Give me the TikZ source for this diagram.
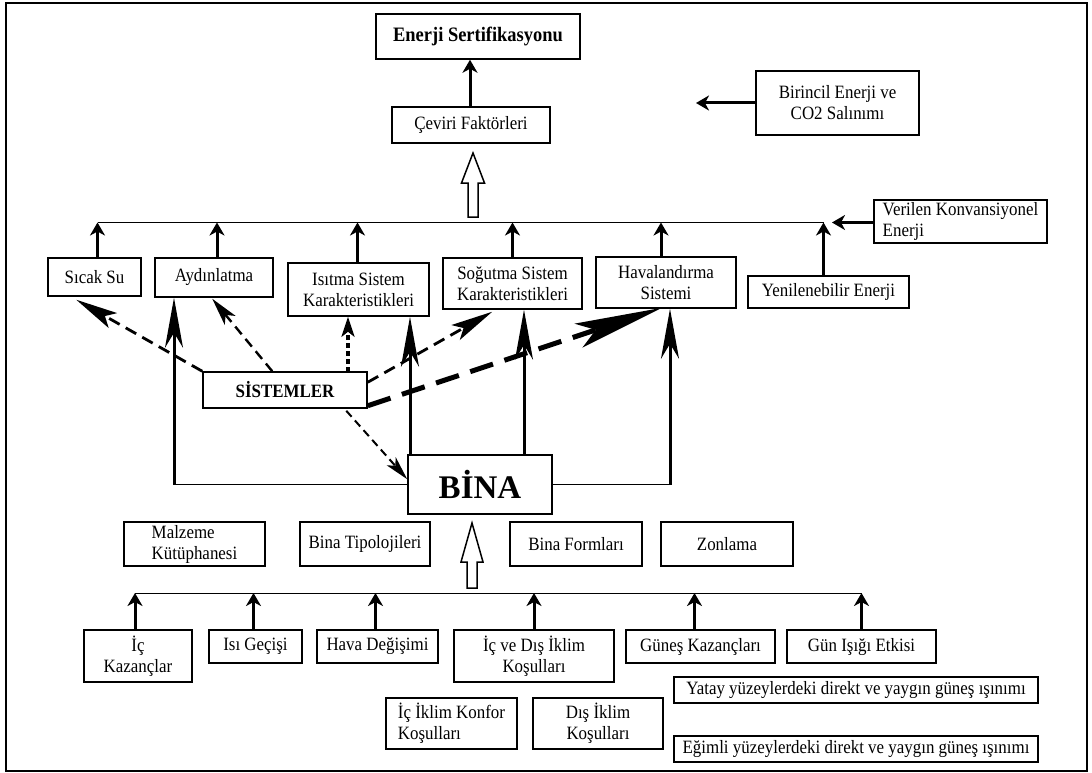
\documentclass[tikz,border=0pt]{standalone}
\usepackage{fontspec}
\setmainfont[FakeStretch=0.9]{Liberation Serif}
\newfontfamily\plainserif{Liberation Serif}
\usetikzlibrary{arrows.meta,calc}
\tikzset{
 box/.style={draw,line width=1.5pt,inner sep=0pt,align=center,font=\fontsize{18.8}{21}\selectfont},
 bus/.style={line width=1pt},
 uparrow/.style={line width=3pt,-{Stealth[length=13pt,width=15pt,inset=4pt]}},
 bigarrow/.style={line width=3pt,-{Stealth[length=50pt,width=18pt,inset=15pt]}},
 dasharrow/.style={line width=2.8pt,dash pattern=on 12pt off 7pt,-{Stealth[length=42pt,width=17pt,inset=9pt]}},
 dasharrowsmall/.style={line width=2.4pt,dash pattern=on 10pt off 6pt,-{Stealth[length=28pt,width=14pt,inset=7pt]}},
 dotarrow/.style={line width=3.2pt,dash pattern=on 5pt off 3pt,-{Stealth[length=20pt,width=13pt,inset=5pt]}},
 thinarrow/.style={line width=2pt,dash pattern=on 8pt off 5pt,-{Stealth[length=24pt,width=12pt,inset=6pt]}},
 heavyarrow/.style={line width=5pt,dash pattern=on 24pt off 12pt,-{Stealth[length=88pt,width=25pt,inset=18pt]}},
 hollow/.style={draw,line width=1.5pt,fill=white},
}
\newcommand\mybox[7][]{\node[box,minimum width={#5pt-#3pt},minimum height={#6pt-#4pt},#1] (#2) at ({(#3+#5)/2},{(#4+#6)/2}) {#7};}
\begin{document}
\begin{tikzpicture}[x=1pt,y=-1pt]
\useasboundingbox (0,0) rectangle (1092,773);
\draw[line width=1.5pt] (6,3) rectangle (1087,771);

% top
\mybox[font=\fontsize{20.5}{23}\selectfont\bfseries]{enerji}{376}{14}{580}{59}{Enerji Sertifikasyonu}
\mybox{ceviri}{392}{107}{550}{143}{Çeviri Faktörleri}
\mybox{birincil}{756}{71}{919}{135}{Birincil Enerji ve\\CO2 Salınımı}
\mybox[align=left]{verilen}{874}{200}{1047}{243}{Verilen Konvansiyonel\\Enerji}

% systems row
\mybox{sicak}{48}{258}{141}{296}{Sıcak Su}
\mybox{aydin}{155}{258}{273}{297}{Aydınlatma}
\mybox{isitma}{288}{263}{429}{316}{Isıtma Sistem\\Karakteristikleri}
\mybox{sogutma}{443}{258}{582}{309}{Soğutma Sistem\\Karakteristikleri}
\mybox{haval}{596}{257}{736}{308}{Havalandırma\\Sistemi}
\mybox{yenile}{748}{276}{909}{308}{Yenilenebilir Enerji}

\mybox[font=\fontsize{18.8}{21}\selectfont\bfseries]{sistemler}{203}{372}{367}{408}{SİSTEMLER}
\mybox[font=\plainserif\fontsize{33}{36}\selectfont\bfseries]{bina}{408}{455}{552}{514}{BİNA}

% building row
\mybox[align=left]{malzeme}{124}{522}{265}{566}{Malzeme\\Kütüphanesi}
\mybox{tipoloji}{300}{522}{430}{566}{Bina Tipolojileri}
\mybox{formlar}{510}{522}{642}{566}{Bina Formları}
\mybox{zonlama}{661}{522}{793}{566}{Zonlama}

% bottom row
\mybox{ickaz}{84}{630}{192}{682}{İç\\Kazançlar}
\mybox{isigec}{209}{630}{302}{663}{Isı Geçişi}
\mybox{havadeg}{317}{630}{438}{663}{Hava Değişimi}
\mybox{icdis}{454}{630}{614}{682}{İç ve Dış İklim\\Koşulları}
\mybox{gunes}{626}{630}{775}{663}{Güneş Kazançları}
\mybox{gunisigi}{787}{630}{936}{663}{Gün Işığı Etkisi}
\mybox{yatay}{674}{677}{1038}{703}{Yatay yüzeylerdeki direkt ve yaygın güneş ışınımı}
\mybox[align=left]{icik}{386}{698}{517}{749}{İç İklim Konfor\\Koşulları}
\mybox{disik}{533}{698}{663}{749}{Dış İklim\\Koşulları}
\mybox{egimli}{674}{736}{1038}{762}{Eğimli yüzeylerdeki direkt ve yaygın güneş ışınımı}

% coordinates
\coordinate (tbus) at (0,222.5);
\coordinate (bbus) at (0,593);
\coordinate (lc) at (174,484.5);
\coordinate (rc) at (670,484.5);
\coordinate (bt) at (696,103);
\coordinate (vt) at (832,222.5);
\coordinate (b1) at (410,455);
\coordinate (b2) at (524,455);
\coordinate (s3) at (348,372);

% top connectors
\draw[uparrow] (ceviri.north -| 470,0) -- (enerji.south -| 470,0);
\draw[uparrow] (birincil.west) -- (bt);
\draw[uparrow] (verilen.west |- vt) -- (vt);
\draw[hollow] (468,217) -- (478,217) -- (478,183) -- (484.5,183) -- (473,153) -- (461.5,183) -- (468,183) -- cycle;

\draw[bus] ([xshift=3pt]sicak.north |- tbus) -- ([xshift=-5pt]yenile.north |- tbus);
\draw[uparrow] ([xshift=3pt]sicak.north) -- ([xshift=3pt]sicak.north |- tbus);
\draw[uparrow] ([xshift=3pt]aydin.north) -- ([xshift=3pt]aydin.north |- tbus);
\draw[uparrow] ([xshift=-1pt]isitma.north) -- ([xshift=-1pt]isitma.north |- tbus);
\draw[uparrow] (sogutma.north) -- (sogutma.north |- tbus);
\draw[uparrow] ([xshift=-5pt]haval.north) -- ([xshift=-5pt]haval.north |- tbus);
\draw[uparrow] ([xshift=-5pt]yenile.north) -- ([xshift=-5pt]yenile.north |- tbus);

% building connectors
\draw[bus] (bina.west |- lc) -- (lc);
\draw[bus] (bina.east |- rc) -- (rc);
\draw[bigarrow] (lc) -- (aydin.south -| lc);
\draw[bigarrow] (rc) -- (haval.south -| rc);
\draw[bigarrow] (b1) -- (isitma.south -| b1);
\draw[bigarrow] (b2) -- (sogutma.south -| b2);

% system connectors
\draw[dasharrow] (sistemler.north west) -- ([xshift=29pt,yshift=-3pt]sicak.south west);
\draw[dasharrowsmall] ([xshift=70pt]sistemler.north west) -- ([xshift=58pt,yshift=-1pt]aydin.south west);
\draw[dotarrow] (s3) -- (s3 |- isitma.south);
\draw[dasharrow] ([yshift=-11pt]sistemler.north east) -- ([xshift=50pt,yshift=-2pt]sogutma.south west);
\draw[heavyarrow] ([yshift=3pt]sistemler.south east) -- ([xshift=67pt,yshift=1pt]haval.south west);
\draw[thinarrow] ([xshift=144pt,yshift=-2pt]sistemler.south west) -- ([yshift=-25pt]bina.north west);

% bottom connectors
\draw[hollow] (467,588) -- (477,588) -- (477,562) -- (483,562) -- (472,523) -- (461,562) -- (467,562) -- cycle;
\draw[bus] ([xshift=-3pt]ickaz.north |- bbus) -- (gunisigi.north |- bbus);
\draw[uparrow] ([xshift=-3pt]ickaz.north) -- ([xshift=-3pt]ickaz.north |- bbus);
\draw[uparrow] ([xshift=-2pt]isigec.north) -- ([xshift=-2pt]isigec.north |- bbus);
\draw[uparrow] ([xshift=-2pt]havadeg.north) -- ([xshift=-2pt]havadeg.north |- bbus);
\draw[uparrow] (icdis.north) -- (icdis.north |- bbus);
\draw[uparrow] ([xshift=-6pt]gunes.north) -- ([xshift=-6pt]gunes.north |- bbus);
\draw[uparrow] (gunisigi.north) -- (gunisigi.north |- bbus);
\end{tikzpicture}
\end{document}
